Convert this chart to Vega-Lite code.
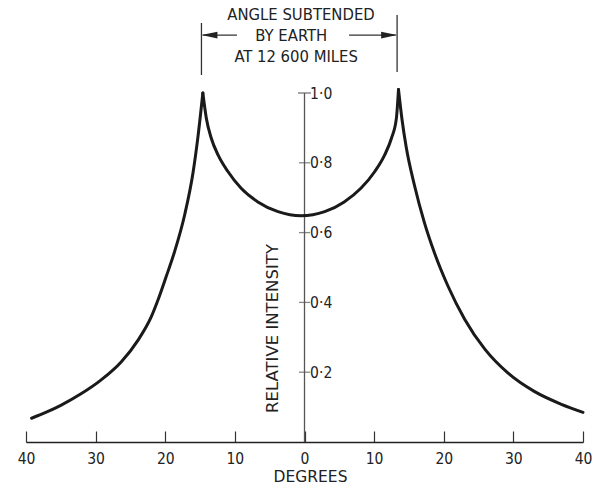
{
  "$schema": "https://vega.github.io/schema/vega-lite/v6.json",
  "width": 557,
  "height": 442,
  "autosize": "none",
  "padding": {"left": 26, "top": 0, "right": 15, "bottom": 46},
  "background": "white",
  "config": {"view": {"stroke": null}, "font": "DejaVu Sans Condensed"},
  "datasets": {
    "curve": [
      {"seg": "L", "x": -39.2, "y": 0.068},
      {"seg": "L", "x": -37.0, "y": 0.086},
      {"seg": "L", "x": -35.0, "y": 0.105},
      {"seg": "L", "x": -32.1, "y": 0.138},
      {"seg": "L", "x": -29.2, "y": 0.178},
      {"seg": "L", "x": -26.3, "y": 0.23},
      {"seg": "L", "x": -23.9, "y": 0.292},
      {"seg": "L", "x": -22.0, "y": 0.359},
      {"seg": "L", "x": -21.1, "y": 0.404},
      {"seg": "L", "x": -19.9, "y": 0.472},
      {"seg": "L", "x": -18.7, "y": 0.543},
      {"seg": "L", "x": -17.2, "y": 0.652},
      {"seg": "L", "x": -16.0, "y": 0.773},
      {"seg": "L", "x": -15.3, "y": 0.875},
      {"seg": "L", "x": -14.6, "y": 1.0},
      {"seg": "M", "x": -14.6, "y": 1.0},
      {"seg": "M", "x": -14.1, "y": 0.928},
      {"seg": "M", "x": -13.4, "y": 0.871},
      {"seg": "M", "x": -12.4, "y": 0.822},
      {"seg": "M", "x": -11.0, "y": 0.775},
      {"seg": "M", "x": -9.1, "y": 0.727},
      {"seg": "M", "x": -6.7, "y": 0.688},
      {"seg": "M", "x": -3.8, "y": 0.66},
      {"seg": "M", "x": -0.5, "y": 0.648},
      {"seg": "M", "x": 2.9, "y": 0.66},
      {"seg": "M", "x": 5.7, "y": 0.688},
      {"seg": "M", "x": 8.1, "y": 0.727},
      {"seg": "M", "x": 10.1, "y": 0.775},
      {"seg": "M", "x": 11.5, "y": 0.822},
      {"seg": "M", "x": 12.5, "y": 0.871},
      {"seg": "M", "x": 13.2, "y": 0.928},
      {"seg": "M", "x": 13.5, "y": 1.01},
      {"seg": "R", "x": 13.5, "y": 1.01},
      {"seg": "R", "x": 14.0, "y": 0.925},
      {"seg": "R", "x": 14.6, "y": 0.846},
      {"seg": "R", "x": 15.8, "y": 0.735},
      {"seg": "R", "x": 17.2, "y": 0.63},
      {"seg": "R", "x": 18.7, "y": 0.54},
      {"seg": "R", "x": 20.6, "y": 0.447},
      {"seg": "R", "x": 23.0, "y": 0.352},
      {"seg": "R", "x": 25.9, "y": 0.266},
      {"seg": "R", "x": 29.2, "y": 0.198},
      {"seg": "R", "x": 33.0, "y": 0.145},
      {"seg": "R", "x": 36.9, "y": 0.108},
      {"seg": "R", "x": 40.0, "y": 0.085}
    ],
    "yaxis": [{"x": 0, "y": 0, "y2": 1.0}],
    "yticks": [{"x": 0, "y": 0.2}, {"x": 0, "y": 0.4}, {"x": 0, "y": 0.6}, {"x": 0, "y": 0.8}],
    "ytop": [{"x": 0, "y": 1.0}],
    "brackets": [
      {"x": -14.8, "y": 1.0516, "y2": 1.2006},
      {"x": 13.3, "y": 1.06, "y2": 1.2235}
    ],
    "arrowlines": [
      {"x": -14.6, "x2": -9.7, "y": 1.166},
      {"x": 6.4, "x2": 13.1, "y": 1.166}
    ],
    "arrowL": [{"x": -14.8, "y": 1.166}],
    "arrowR": [{"x": 13.3, "y": 1.166}],
    "label": [
      {"x": -0.5, "y": 1.2235, "text": "ANGLE SUBTENDED"},
      {"x": -1.9, "y": 1.163, "text": "BY EARTH"},
      {"x": -1.2, "y": 1.103, "text": "AT 12 600 MILES"}
    ]
  },
  "encoding": {
    "x": {
      "field": "x",
      "type": "quantitative",
      "scale": {"domain": [-40, 40], "nice": false, "zero": false},
      "axis": {
        "title": "DEGREES",
        "values": [-40, -30, -20, -10, 0, 10, 20, 30, 40],
        "labelExpr": "format(abs(datum.value), 'd')",
        "grid": false,
        "domainColor": "#222",
        "domainWidth": 1.5,
        "tickColor": "#333",
        "tickWidth": 1.2,
        "tickSize": -11,
        "labelPadding": 27,
        "labelBaseline": "middle",
        "labelFont": "DejaVu Sans Condensed",
        "labelFontSize": 15.5,
        "labelColor": "#222",
        "labelFlush": false,
        "titleFont": "DejaVu Sans",
        "titleFontSize": 15.5,
        "titleFontWeight": "normal",
        "titleColor": "#222",
        "titleX": 284,
        "titleY": 34,
        "titleAlign": "center",
        "titleBaseline": "middle"
      }
    },
    "y": {
      "field": "y",
      "type": "quantitative",
      "scale": {"domain": [0, 1.2665], "nice": false, "zero": false},
      "axis": {
        "orient": "right",
        "offset": -279.4,
        "title": "RELATIVE INTENSITY",
        "values": [0.2, 0.4, 0.6, 0.8, 1.0],
        "labelExpr": "replace(format(datum.value, '.1f'), '.', '·')",
        "domain": false,
        "ticks": false,
        "grid": false,
        "labelPadding": 6,
        "labelAlign": "left",
        "labelBaseline": "middle",
        "labelFont": "DejaVu Sans Condensed",
        "labelFontSize": 15.5,
        "labelColor": "#222",
        "titleFont": "DejaVu Sans",
        "titleFontSize": 16.5,
        "titleFontWeight": "normal",
        "titleColor": "#222",
        "titleAngle": -90,
        "titleX": -31,
        "titleY": 328,
        "titleAlign": "center",
        "titleBaseline": "middle"
      }
    }
  },
  "layer": [
    {
      "data": {"name": "yaxis"},
      "mark": {"type": "rule", "color": "#555", "strokeWidth": 1.3},
      "encoding": {"y2": {"field": "y2"}}
    },
    {
      "data": {"name": "yticks"},
      "mark": {"type": "tick", "orient": "horizontal", "size": 11, "thickness": 1.3, "color": "#555"}
    },
    {
      "data": {"name": "ytop"},
      "mark": {"type": "tick", "orient": "horizontal", "size": 13, "thickness": 1.5, "color": "#555"}
    },
    {
      "data": {"name": "curve"},
      "mark": {"type": "line", "interpolate": "monotone", "color": "#1a1a1a", "strokeWidth": 3, "strokeCap": "round", "strokeJoin": "round"},
      "encoding": {"detail": {"field": "seg"}}
    },
    {
      "data": {"name": "brackets"},
      "mark": {"type": "rule", "color": "#333", "strokeWidth": 1.3},
      "encoding": {"y2": {"field": "y2"}}
    },
    {
      "data": {"name": "arrowlines"},
      "mark": {"type": "rule", "color": "#333", "strokeWidth": 1.3},
      "encoding": {"x2": {"field": "x2"}}
    },
    {
      "data": {"name": "arrowL"},
      "mark": {"type": "point", "shape": "M0,0 L2,-0.42 L2,0.42 Z", "size": 256, "filled": true, "color": "#222", "opacity": 1, "strokeWidth": 0}
    },
    {
      "data": {"name": "arrowR"},
      "mark": {"type": "point", "shape": "M0,0 L-2,-0.42 L-2,0.42 Z", "size": 256, "filled": true, "color": "#222", "opacity": 1, "strokeWidth": 0}
    },
    {
      "data": {"name": "label"},
      "mark": {"type": "text", "font": "DejaVu Sans Condensed", "fontSize": 16.5, "color": "#222", "align": "center", "baseline": "middle"},
      "encoding": {"text": {"field": "text"}}
    }
  ]
}
